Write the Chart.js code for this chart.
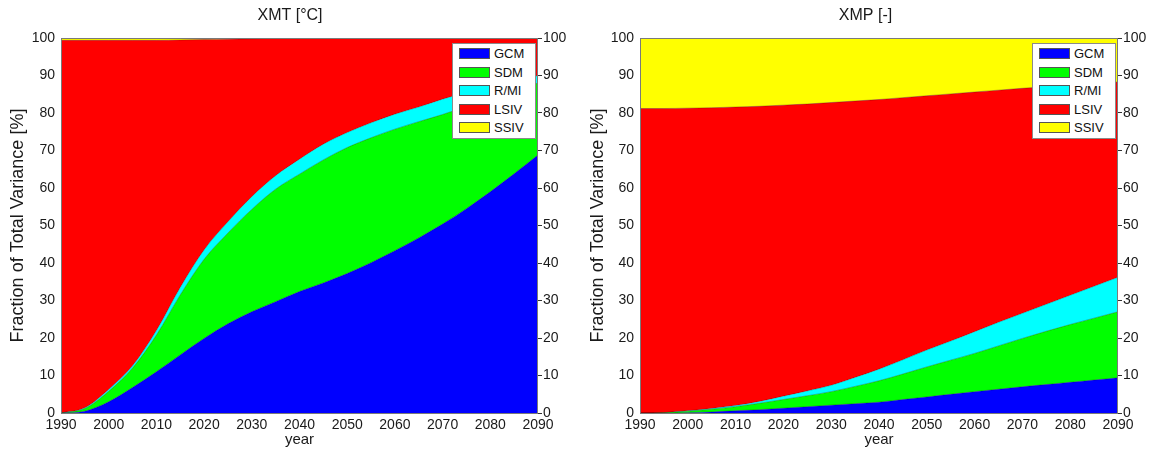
<!DOCTYPE html>
<html>
<head>
<meta charset="utf-8">
<script src="https://cdn.jsdelivr.net/npm/chart.js@4"></script>
<style>
  html, body { margin: 0; padding: 0; background: #fff; }
  body { width: 1151px; height: 453px; position: relative; overflow: hidden; font-family: "Liberation Sans", Arial, sans-serif; }
  .wrap { position: absolute; top: 0; height: 453px; }
  .legend { position: absolute; background: #fff; border: 1px solid #8a8a8a; box-sizing: border-box; width: 84px; height: 96px; }
  .item { position: absolute; left: 6px; height: 14px; font-size: 13px; line-height: 14px; color: #111; }
  .sw { position: absolute; left: 0; top: 1px; width: 31px; height: 11px; border: 1px solid #555; box-sizing: border-box; }
  .lbl { position: absolute; left: 35px; top: 0; white-space: nowrap; }
</style>
</head>
<body>
<div class="wrap" style="left:0;width:580px;"><canvas id="c1"></canvas></div>
<div class="wrap" style="left:580px;width:571px;"><canvas id="c2"></canvas></div>
<div class="legend" id="lg1" style="left:452px;top:43px;"></div>
<div class="legend" id="lg2" style="left:1032px;top:43px;"></div>
<script>
// ---- data ----
const years = [1990,1995,2000,2005,2010,2015,2020,2025,2030,2035,2040,2045,2050,2055,2060,2065,2070,2075,2080,2085,2090];
const seriesNames = ['GCM','SDM','R/MI','LSIV','SSIV'];
const seriesColors = ['#0000ff','#00ff00','#00ffff','#ff0000','#ffff00'];
const xTicks = [1990,2000,2010,2020,2030,2040,2050,2060,2070,2080,2090];
const yTicks = [0,10,20,30,40,50,60,70,80,90,100];
const titles = ['XMT [°C]','XMP [-]'];

// XMT (left panel) fractions of total variance [%]
const xmtGCM  = [0,0.5,3.0,6.8,11,15.5,19.9,23.8,27,29.7,32.4,34.7,37.2,40.1,43.3,46.7,50.4,54.5,59.0,63.8,68.8];
const xmtSDM  = [0,0.7,2.8,5.2,9.8,16.0,21.1,24.2,27.3,30.0,31.3,32.8,33.6,33.3,32.4,31.0,29.2,27.3,25.0,22.2,19.2];
const xmtRMI  = [0,0.2,0.5,0.6,1.2,2.0,2.5,3.0,3.4,3.6,4.0,4.2,4.0,4.0,4.0,3.9,4.1,3.7,3.0,2.4,2.0];
const xmtLSIV = [99.4,98.0,93.1,86.8,77.4,66.0,56.1,48.7,42.1,36.6,32.2,28.25,25.2,22.6,20.3,18.4,16.3,14.5,13.0,11.6,10.0];
const xmtSSIV = [0.6,0.6,0.6,0.6,0.6,0.5,0.4,0.3,0.2,0.1,0.1,0.05,0,0,0,0,0,0,0,0,0];

// XMP (right panel)
const xmpGCM  = [0,0,0.1,0.3,0.6,0.9,1.3,1.7,2.1,2.5,2.9,3.6,4.3,5.0,5.7,6.35,7.0,7.6,8.2,8.8,9.4];
const xmpSDM  = [0,0.1,0.4,0.7,1.1,1.7,2.3,2.9,3.6,4.6,5.7,6.8,8.0,9.1,10.2,11.55,12.9,14.2,15.4,16.5,17.6];
const xmpRMI  = [0,0,0.1,0.2,0.3,0.5,0.9,1.3,1.7,2.4,3.1,3.8,4.5,5.1,5.8,6.3,6.7,7.2,7.8,8.5,9.2];
const xmpLSIV = [81.2,81.1,80.7,80.2,79.6,78.7,77.6,76.5,75.4,73.7,71.9,69.9,67.8,65.9,63.9,61.9,60.0,58.0,56.1,54.1,52.1];
const xmpSSIV = [18.8,18.8,18.7,18.6,18.4,18.2,17.9,17.6,17.2,16.8,16.4,15.9,15.4,14.9,14.4,13.9,13.4,13.0,12.5,12.1,11.7];

const FONT = '"Liberation Sans", Arial, sans-serif';
const TXT = '#1a1a1a';

function makeDatasets(list) {
  return list.map((vals, i) => ({
    label: seriesNames[i],
    data: years.map((y, j) => ({ x: y, y: vals[j] })),
    backgroundColor: seriesColors[i],
    borderColor: 'rgba(0,0,0,0.45)',
    borderWidth: 0.6,
    pointRadius: 0,
    fill: i === 0 ? 'origin' : '-1',
    cubicInterpolationMode: 'monotone'
  }));
}

const frame = {
  id: 'frame',
  afterDatasetsDraw(chart) {
    const a = chart.chartArea, c = chart.ctx;
    c.save();
    c.strokeStyle = '#7a7a7a';
    c.lineWidth = 1;
    c.strokeRect(a.left + 0.5, a.top + 0.5, a.right - a.left - 1, a.bottom - a.top);
    c.restore();
  }
};

function makeChart(id, title, sets, leftW, rightW) {
  return new Chart(document.getElementById(id), {
    type: 'line',
    data: { datasets: makeDatasets(sets) },
    plugins: [frame],
    options: {
      responsive: true,
      maintainAspectRatio: false,
      animation: false,
      layout: { padding: 0 },
      plugins: {
        legend: { display: false },
        tooltip: { enabled: false },
        title: {
          display: true, text: title, color: TXT,
          font: { family: FONT, size: 16, weight: 'normal' },
          padding: { top: 6, bottom: 12.8 }
        }
      },
      scales: {
        x: {
          type: 'linear', min: 1990, max: 2090,
          afterBuildTicks(s) { s.ticks = xTicks.map(v => ({ value: v })); },
          afterFit(s) { s.height = 40; },
          grid: { display: false, drawTicks: false },
          border: { display: false },
          ticks: { color: TXT, font: { family: FONT, size: 14 }, padding: 4, maxRotation: 0, autoSkip: false,
                   callback: v => String(v) },
          title: { display: true, text: 'year', color: TXT, font: { family: FONT, size: 15 }, padding: { top: 0, bottom: 4 } }
        },
        y: {
          stacked: true, min: 0, max: 100, position: 'left',
          afterBuildTicks(s) { s.ticks = yTicks.map(v => ({ value: v })); },
          afterFit(s) { s.width = leftW; },
          grid: { display: false, drawTicks: false },
          border: { display: false },
          ticks: { color: TXT, font: { family: FONT, size: 14 }, padding: 6, callback: v => String(v) },
          title: { display: true, text: 'Fraction of Total Variance [%]', color: TXT, font: { family: FONT, size: 18 }, padding: { top: 7, bottom: 0 } }
        },
        y2: {
          min: 0, max: 100, position: 'right',
          afterBuildTicks(s) { s.ticks = yTicks.map(v => ({ value: v })); },
          afterFit(s) { s.width = rightW; },
          grid: { drawOnChartArea: false, drawTicks: true, tickLength: 4, color: '#333' },
          border: { display: false },
          ticks: { color: TXT, font: { family: FONT, size: 14 }, padding: 1, callback: v => String(v) }
        }
      }
    }
  });
}

makeChart('c1', titles[0], [xmtGCM, xmtSDM, xmtRMI, xmtLSIV, xmtSSIV], 61, 42);
makeChart('c2', titles[1], [xmpGCM, xmpSDM, xmpRMI, xmpLSIV, xmpSSIV], 60, 33);

function buildLegend(id) {
  const el = document.getElementById(id);
  seriesNames.forEach((n, i) => {
    const it = document.createElement('div');
    it.className = 'item';
    it.style.top = (3 + i * 18.5) + 'px';
    const sw = document.createElement('div');
    sw.className = 'sw';
    sw.style.background = seriesColors[i];
    const lb = document.createElement('div');
    lb.className = 'lbl';
    lb.textContent = n;
    it.appendChild(sw); it.appendChild(lb);
    el.appendChild(it);
  });
}
buildLegend('lg1');
buildLegend('lg2');
</script>
</body>
</html>
